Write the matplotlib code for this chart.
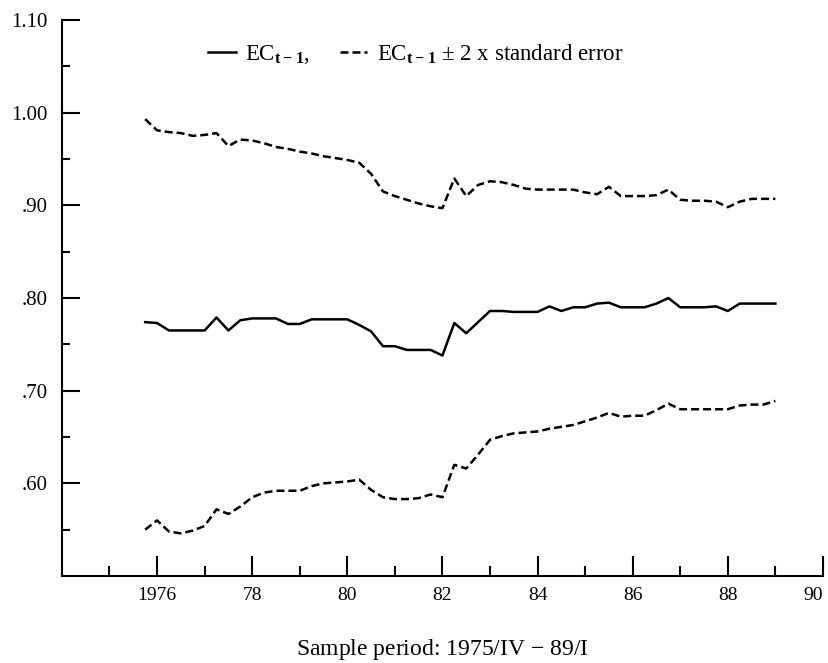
import numpy as np
import matplotlib
matplotlib.use("Agg")
import matplotlib.pyplot as plt
from matplotlib.ticker import FixedLocator

plt.rcParams["font.family"] = ["Liberation Serif", "DejaVu Serif"]
plt.rcParams["mathtext.fontset"] = "custom"
plt.rcParams["mathtext.rm"] = "Liberation Serif"
plt.rcParams["mathtext.bf"] = "Liberation Serif:bold"

# quarterly estimates, 1975/IV .. 1989/I
periodo = 1975.75 + 0.25 * np.arange(54)

ec = [0.774, 0.773, 0.765, 0.765, 0.765, 0.765, 0.779, 0.765, 0.776, 0.778,
      0.778, 0.778, 0.772, 0.772, 0.777, 0.777, 0.777, 0.777, 0.771, 0.764,
      0.748, 0.748, 0.744, 0.744, 0.744, 0.738, 0.773, 0.762, 0.774, 0.786,
      0.786, 0.785, 0.785, 0.785, 0.791, 0.786, 0.790, 0.790, 0.794, 0.795,
      0.790, 0.790, 0.790, 0.794, 0.800, 0.790, 0.790, 0.790, 0.791, 0.786,
      0.794, 0.794, 0.794, 0.794]

ec_sup = [0.993, 0.981, 0.979, 0.978, 0.975, 0.976, 0.978, 0.964, 0.971, 0.970,
          0.967, 0.963, 0.961, 0.958, 0.956, 0.953, 0.951, 0.949, 0.946, 0.934,
          0.915, 0.910, 0.906, 0.902, 0.899, 0.897, 0.929, 0.910, 0.922, 0.926,
          0.925, 0.922, 0.918, 0.917, 0.917, 0.917, 0.917, 0.914, 0.912, 0.920,
          0.910, 0.910, 0.910, 0.911, 0.917, 0.906, 0.905, 0.905, 0.904, 0.898,
          0.904, 0.907, 0.907, 0.907]

ec_inf = [0.550, 0.560, 0.548, 0.546, 0.549, 0.554, 0.572, 0.567, 0.575, 0.585,
          0.590, 0.592, 0.592, 0.592, 0.597, 0.600, 0.601, 0.602, 0.604, 0.593,
          0.585, 0.583, 0.583, 0.584, 0.588, 0.585, 0.620, 0.616, 0.631, 0.647,
          0.651, 0.654, 0.655, 0.656, 0.659, 0.661, 0.663, 0.667, 0.671, 0.676,
          0.672, 0.673, 0.673, 0.679, 0.686, 0.680, 0.680, 0.680, 0.680, 0.680,
          0.684, 0.685, 0.685, 0.689]

anos_maiores = [1976, 1978, 1980, 1982, 1984, 1986, 1988, 1990]
rotulos_x = ["1976", "78", "80", "82", "84", "86", "88", "90"]
anos_menores = [1975, 1977, 1979, 1981, 1983, 1985, 1987, 1989]
niveis_y = [0.60, 0.70, 0.80, 0.90, 1.00, 1.10]
rotulos_y = [".60", ".70", ".80", ".90", "1.00", "1.10"]
niveis_y_menores = [0.55, 0.65, 0.75, 0.85, 0.95, 1.05]

fig = plt.figure(figsize=(8.29, 6.63), dpi=100)
ax = fig.add_axes([0.0747, 0.1312, 0.918, 0.8386])

estilo_tracejado = (0, (3.2, 1.6))
linha_ec, = ax.plot(periodo, ec, color="black", lw=1.8)
linha_sup, = ax.plot(periodo, ec_sup, color="black", lw=1.8, linestyle=estilo_tracejado)
ax.plot(periodo, ec_inf, color="black", lw=1.8, linestyle=estilo_tracejado)

ax.set_xlim(1974, 1990)
ax.set_ylim(0.5, 1.1)

for lado in ("top", "right"):
    ax.spines[lado].set_visible(False)
for lado in ("left", "bottom"):
    ax.spines[lado].set_linewidth(1.5)

ax.xaxis.set_major_locator(FixedLocator(anos_maiores))
ax.xaxis.set_minor_locator(FixedLocator(anos_menores))
ax.set_xticklabels(rotulos_x)
ax.yaxis.set_major_locator(FixedLocator(niveis_y))
ax.yaxis.set_minor_locator(FixedLocator(niveis_y_menores))
ax.set_yticklabels(rotulos_y)
# o rótulo "90" fica encostado na borda direita
ax.get_xticklabels()[-1].set_horizontalalignment("right")

ax.tick_params(axis="x", which="major", direction="in", length=14.5, width=1.5,
               labelsize=14, pad=8)
ax.tick_params(axis="x", which="minor", direction="in", length=7.2, width=1.5)
ax.tick_params(axis="y", which="major", direction="in", length=13, width=1.5,
               labelsize=15, pad=10)
ax.tick_params(axis="y", which="minor", direction="in", length=6, width=1.5)

ax.set_xlabel("Sample period: 1975/IV $-$ 89/I", fontsize=17, labelpad=24)

ax.legend([linha_ec, linha_sup],
          [r"EC$_{\mathbf{t-1}}$,", r"EC$_{\mathbf{t-1}}$ $\pm$ 2 x standard error"],
          loc="center", bbox_to_anchor=(0.465, 0.938), ncol=2, frameon=False,
          fontsize=16.5, handlelength=1.2, handletextpad=0.4, columnspacing=1.3)

fig.savefig("out.png", dpi=100)
plt.close(fig)
